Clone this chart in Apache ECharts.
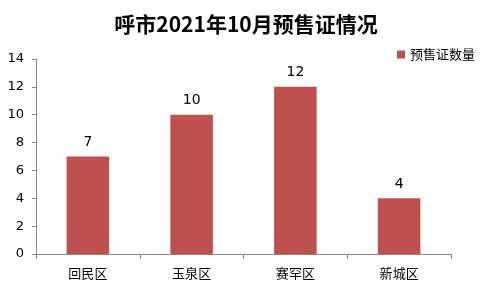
<!DOCTYPE html>
<html><head><meta charset="utf-8">
<script src="https://cdn.jsdelivr.net/npm/echarts@6/dist/echarts.min.js"></script>
<style>html,body{margin:0;padding:0;background:#fff}#c{width:492px;height:290px}</style>
</head><body><div id="c"></div>
<script>
var categories = ['回民区', '玉泉区', '赛罕区', '新城区'];
var values = [7, 10, 12, 4];
var seriesName = '预售证数量';
var titleText = '呼市2021年10月预售证情况';

var chart = echarts.init(document.getElementById('c'));
var font = '"Noto Sans CJK SC", sans-serif';
var numFont = '"DejaVu Sans", sans-serif';
chart.setOption({
  animation: false,
  backgroundColor: '#fff',
  title: {
    text: titleText, left: 'center', top: 9,
    textStyle: {fontFamily: font, fontSize: 21, fontWeight: 'bold', color: '#000'}
  },
  legend: {
    data: [seriesName], right: 12, top: 43, itemWidth: 8, itemHeight: 8, itemGap: 3,
    icon: 'rect',
    textStyle: {fontFamily: font, fontSize: 13, color: '#000'}
  },
  grid: {left: 36, right: 41, top: 59, bottom: 36},
  xAxis: {
    type: 'category', data: categories,
    axisLine: {lineStyle: {color: '#888'}},
    axisTick: {show: true, alignWithLabel: false, length: 5, lineStyle: {color: '#888'}},
    axisLabel: {fontFamily: font, fontSize: 13, color: '#000', margin: 13}
  },
  yAxis: {
    type: 'value', min: 0, max: 14, interval: 2,
    axisLine: {show: true, lineStyle: {color: '#888'}},
    axisTick: {show: true, length: 4, lineStyle: {color: '#888'}},
    splitLine: {show: false},
    axisLabel: {fontFamily: numFont, fontSize: 13, color: '#000', margin: 12}
  },
  series: [{
    name: seriesName, type: 'bar', data: values, barWidth: '41%',
    itemStyle: {color: '#C0504D'},
    label: {show: true, position: 'top', distance: 7, fontFamily: numFont, fontSize: 14, color: '#000'}
  }]
});
</script></body></html>
